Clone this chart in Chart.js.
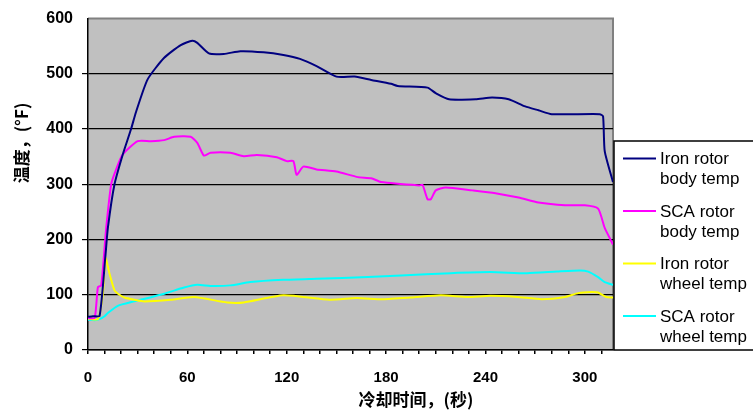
<!DOCTYPE html>
<html lang="zh">
<head>
  <meta charset="UTF-8">
  <title>Rotor cooling temperatures</title>
  <script src="https://cdn.jsdelivr.net/npm/chart.js"></script>
  <style>
    body { margin: 0; background: #fff; }
    #wrap { width: 753px; height: 410px; }
  </style>
</head>
<body>
  <div id="wrap">
    <canvas id="tempChart" width="753" height="410"></canvas>
  </div>

  <script>
    // time (s) and temperature (°F)
    const ironBodyT = [0, 3, 7, 10.5, 12, 16, 21, 26, 29, 36, 46, 56, 63, 66, 73, 82, 92, 106, 118, 128, 138, 150, 161, 171, 183, 187, 205, 210, 218, 234, 244, 254, 264, 272, 280, 309, 311, 312, 317];
    const ironBodyV = [60, 61, 62, 170, 221, 300, 354, 400, 431, 490, 529, 552, 560, 556, 537, 536, 541, 539, 534, 527, 514, 495, 495, 489, 482, 478, 475, 465, 454, 454, 457, 454, 441, 434, 427, 427, 423, 360, 304];

    const scaBodyT = [0, 4, 6, 8, 11, 14, 17, 21, 30, 38, 46, 52, 62, 66, 70, 74, 86, 94, 102, 114, 120, 124, 126, 130, 138, 150, 163, 171, 177, 200, 202, 205, 207, 210, 216, 232, 246, 260, 272, 288, 300, 308, 312, 317];
    const scaBodyV = [58, 58, 114, 117, 221, 300, 327, 354, 378, 378, 380, 386, 386, 375, 352, 357, 357, 351, 353, 349, 342, 342, 317, 332, 327, 323, 313, 311, 304, 298, 299, 273, 273, 289, 294, 289, 284, 276, 267, 262, 262, 256, 221, 191];

    const ironWheelT = [0, 6, 9, 10.5, 13, 16, 19, 22, 28, 34, 50, 64, 84, 94, 118, 146, 162, 178, 195, 213, 229, 243, 259, 274, 288, 296, 304, 308, 313, 317];
    const ironWheelV = [57, 56, 102, 167, 138, 108, 100, 95, 91, 88, 91, 96, 86, 86, 99, 91, 94, 92, 95, 99, 96, 98, 96, 92, 96, 103, 105, 104, 96, 95];

    const scaWheelT = [0, 4, 7, 10, 12, 18, 28, 46, 58, 66, 74, 86, 98, 118, 138, 169, 189, 219, 243, 265, 283, 297, 302, 308, 312, 317];
    const scaWheelV = [55, 54, 56, 61, 67, 80, 88, 102, 113, 118, 116, 117, 123, 127, 129, 132, 135, 139, 141, 139, 142, 144, 142, 132, 123, 118];

    const seriesNames = [['Iron rotor', 'body temp'], ['SCA rotor', 'body temp'], ['Iron rotor', 'wheel temp'], ['SCA rotor', 'wheel temp']];
    const seriesColors = ['#000080', '#FF00FF', '#FFFF00', '#00FFFF'];
    const xTickLabels = [0, 60, 120, 180, 240, 300];
    const yTitle = '温度，(°F)';
    const xTitle = '冷却时间，(秒)';

    function toPoints(ts, vs) {
      return ts.map((t, i) => ({ x: t, y: vs[i] }));
    }

    const FONT = '"Liberation Sans", Arial, sans-serif';
    const CJK = '"Noto Sans CJK SC", "Liberation Sans", sans-serif';

    // gray plot background + gray top/right frame
    const plotBg = {
      id: 'plotBg',
      beforeDraw(chart) {
        const a = chart.chartArea, ctx = chart.ctx;
        ctx.save();
        ctx.fillStyle = '#C0C0C0';
        ctx.fillRect(a.left, a.top, a.right - a.left, a.bottom - a.top);
        ctx.strokeStyle = '#808080';
        ctx.lineWidth = 2;
        ctx.beginPath();
        ctx.moveTo(a.left, a.top);
        ctx.lineTo(a.right, a.top);
        ctx.lineTo(a.right, a.bottom);
        ctx.stroke();
        ctx.restore();
      }
    };

    // axis titles + boxed legend on the right
    const extras = {
      id: 'extras',
      afterDraw(chart) {
        const ctx = chart.ctx;
        ctx.save();
        ctx.fillStyle = '#000';
        ctx.font = 'bold 17px ' + CJK;
        ctx.textAlign = 'center';
        ctx.textBaseline = 'middle';
        ctx.fillText(xTitle, 416, 400);
        ctx.translate(22, 143);
        ctx.rotate(-Math.PI / 2);
        ctx.fillText(yTitle, 0, 0);
        ctx.restore();

        ctx.save();
        ctx.fillStyle = '#fff';
        ctx.fillRect(614, 141, 150, 209);
        ctx.strokeStyle = '#000';
        ctx.lineWidth = 1.5;
        ctx.strokeRect(614, 141, 150, 209);
        ctx.font = '17px ' + FONT;
        ctx.textAlign = 'left';
        ctx.textBaseline = 'middle';
        chart.data.datasets.forEach((ds, i) => {
          const y = 158.5 + i * 52.5;
          ctx.strokeStyle = ds.borderColor;
          ctx.lineWidth = 2;
          ctx.beginPath();
          ctx.moveTo(623, y);
          ctx.lineTo(656, y);
          ctx.stroke();
          ctx.fillStyle = '#000';
          ctx.fillText(ds.label[0], 660, y + 1);
          ctx.fillText(ds.label[1], 660, y + 21);
        });
        ctx.restore();
      }
    };

    new Chart(document.getElementById('tempChart'), {
      type: 'scatter',
      data: {
        datasets: [
          { label: seriesNames[0], data: toPoints(ironBodyT, ironBodyV) },
          { label: seriesNames[1], data: toPoints(scaBodyT, scaBodyV) },
          { label: seriesNames[2], data: toPoints(ironWheelT, ironWheelV) },
          { label: seriesNames[3], data: toPoints(scaWheelT, scaWheelV) }
        ].map((d, i) => Object.assign(d, {
          showLine: true,
          borderColor: seriesColors[i],
          backgroundColor: seriesColors[i],
          borderWidth: 2,
          pointRadius: 0,
          tension: 0.2
        }))
      },
      options: {
        responsive: false,
        animation: false,
        layout: { padding: { top: 13, right: 140, left: 0, bottom: 0 } },
        plugins: {
          legend: { display: false },
          tooltip: { enabled: false }
        },
        scales: {
          x: {
            type: 'linear',
            min: 0,
            max: 317,
            afterFit: s => { s.height = 60; },
            border: { color: '#000', width: 1.5 },
            grid: { drawOnChartArea: false, color: '#000', tickLength: 4, lineWidth: 1.5 },
            ticks: {
              stepSize: 10,
              includeBounds: false,
              autoSkip: false,
              maxRotation: 0,
              padding: 15,
              color: '#000',
              font: { family: FONT, size: 15, weight: 'bold' },
              callback: v => xTickLabels.includes(v) ? String(v) : ''
            }
          },
          y: {
            min: 0,
            max: 600,
            afterFit: s => { s.width = 88; },
            border: { color: '#000', width: 1.5 },
            grid: {
              color: ctx => (ctx.tick && ctx.tick.value === 600) ? 'rgba(0,0,0,0)' : '#000',
              lineWidth: 1.2,
              tickLength: 6
            },
            ticks: {
              stepSize: 100,
              padding: 9,
              color: '#000',
              font: { family: FONT, size: 16, weight: 'bold' }
            }
          }
        }
      },
      plugins: [plotBg, extras]
    });
  </script>
</body>
</html>
